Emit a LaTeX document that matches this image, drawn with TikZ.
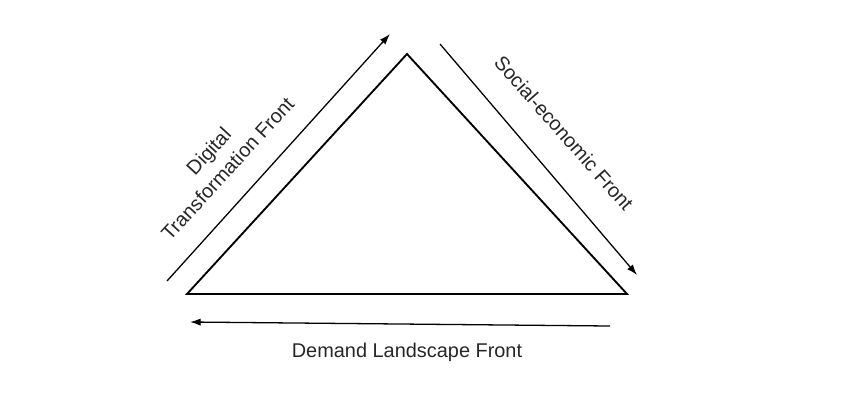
\documentclass[tikz,border=0pt]{standalone}
\usepackage{fontspec}
\setmainfont{Liberation Sans}
\usetikzlibrary{arrows.meta,calc,positioning}
\tikzset{side/.style={line width=1.6pt,line join=miter},
  arr/.style={-{Latex[length=3.2mm,width=2.2mm]},line width=1.1pt},
  lbl/.style={font=\fontsize{17}{22}\selectfont,align=center,text=black!85,inner sep=0pt}}

\begin{document}
\begin{tikzpicture}[x=0.03cm,y=-0.03cm]
\useasboundingbox (0,0) rectangle (853,406);
\coordinate (apex) at (407,54);
\coordinate (bl) at (187,294);
\coordinate (br) at (627,294);
\draw[side] (bl)--(apex)--(br)--cycle;
\coordinate (dts) at (167,281);
\coordinate (dte) at (390,34);
\coordinate (ses) at (440,44);
\coordinate (see) at (637,275);
\coordinate (dls) at (610,326);
\coordinate (dle) at (190,322);
\draw[arr] (dts)--(dte);
\draw[arr] (ses)--(see);
\draw[arr] (dls)--(dle);
\node[lbl,rotate=47.5] (dt) at (218,160) {Digital\\Transformation Front};
\node[lbl,rotate=-48.5] (se) at (564,133) {Social-economic Front};
\node[lbl] (dl) at (407,352) {Demand Landscape Front};
\end{tikzpicture}
\end{document}
